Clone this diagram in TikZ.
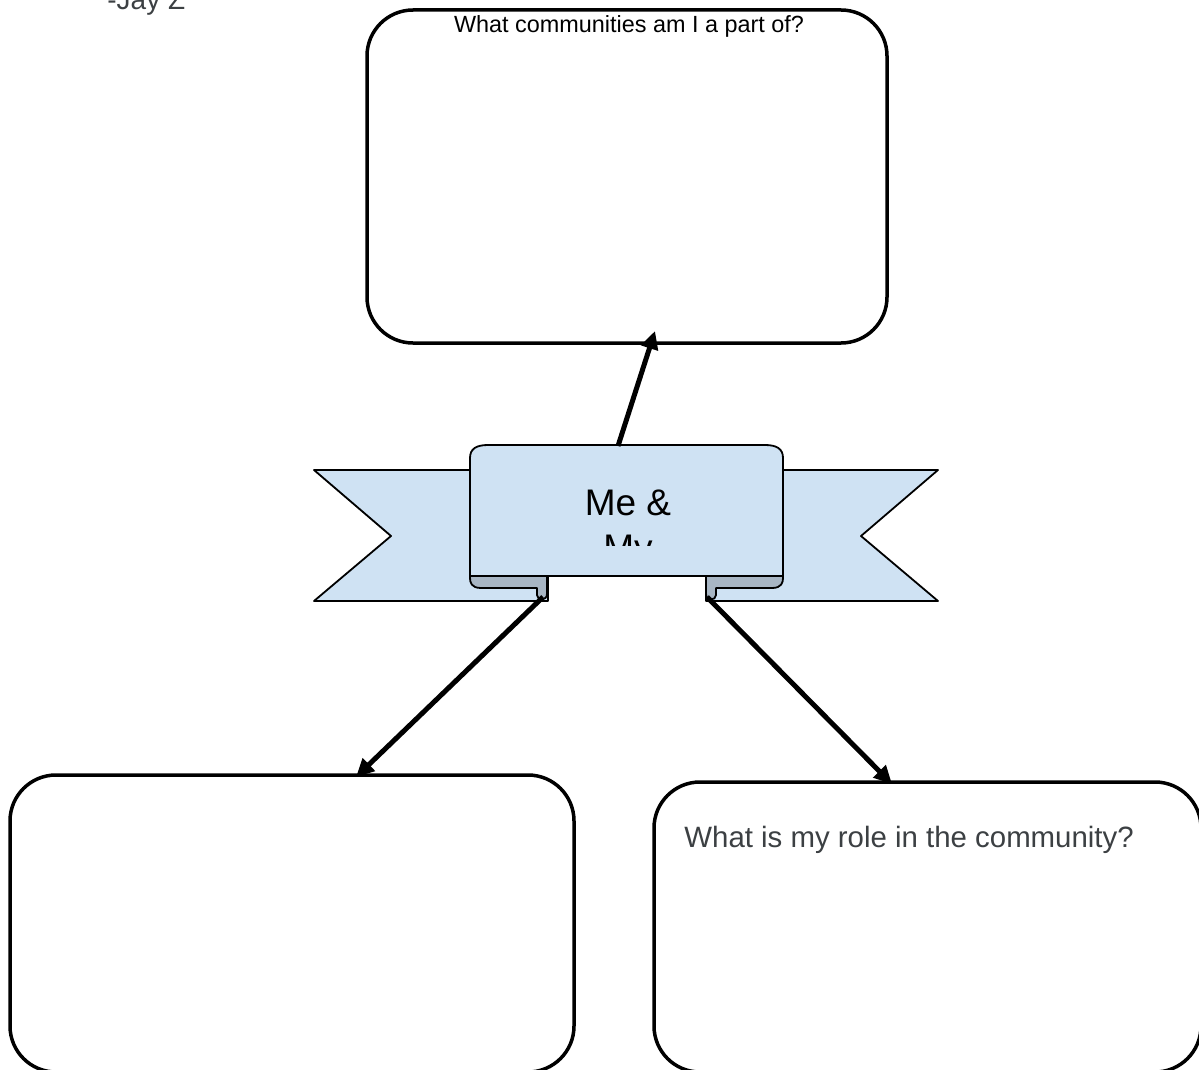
\documentclass[tikz,border=0pt]{standalone}
\usepackage{fontspec}
\setmainfont{Liberation Sans}
\usetikzlibrary{arrows.meta}
\definecolor{ribbon}{HTML}{CFE2F3}
\definecolor{fold}{HTML}{A8B6C4}
\definecolor{greytext}{HTML}{3C4043}
\tikzset{
  qbox/.style={draw=black, line width=1.75pt, rounded corners=23pt, fill=white, inner sep=0pt},
  rib/.style={draw=black, line width=0.9pt, fill=ribbon, line join=round},
  foldpart/.style={draw=black, line width=0.9pt, fill=fold, line join=round},
  conn/.style={line width=2.5pt, -{Triangle[length=9pt,width=8.5pt]}},
}
\begin{document}
\begin{tikzpicture}[x=0.5pt,y=-0.5pt]
\useasboundingbox (0,0) rectangle (1199,1070);
% question boxes
\node[qbox, minimum width=260pt, minimum height=166.5pt] (top) at (627,176.5) {};
\node[qbox, minimum width=282pt, minimum height=148.5pt] (bl) at (292,923.5) {};
\node[qbox, minimum width=273.5pt, minimum height=145pt] (br) at (927.5,927) {};
% texts
\node[anchor=base, inner sep=0pt, font=\fontsize{11.7pt}{14pt}\selectfont] (toptext) at (629,33) {What communities am I a part of?};
\node[anchor=base west, inner sep=0pt, text=greytext, font=\fontsize{14.7pt}{17pt}\selectfont] (brtext) at (684,847) {What is my role in the community?};
\node[anchor=base west, inner sep=0pt, text=greytext, font=\fontsize{14pt}{17pt}\selectfont] (jay) at (107,10) {-Jay Z};
% banner back tails
\draw[rib] (314,470) -- (548,470) -- (548,601) -- (314,601) -- (391,536) -- cycle;
\draw[rib] (706,470) -- (938,470) -- (861,536) -- (938,601) -- (706,601) -- cycle;
% folds
\draw[foldpart] (470,573) -- (547,573) -- (547,594) .. controls (547,601) and (537,601) .. (537,595) -- (537,588) -- (481,588) .. controls (471,588) and (470,582) .. (470,578) -- cycle;
\draw[foldpart] (783,573) -- (706,573) -- (706,594) .. controls (706,601) and (716,601) .. (716,595) -- (716,588) -- (772,588) .. controls (782,588) and (783,582) .. (783,578) -- cycle;
% front panel
\draw[rib] (470,576) -- (470,458) .. controls (470,449) and (476,445) .. (488,445) -- (765,445) .. controls (777,445) and (783,449) .. (783,458) -- (783,576) -- cycle;
\node[anchor=base, inner sep=0pt, font=\fontsize{18.5pt}{22pt}\selectfont] (me) at (628,515) {Me \&};
\begin{scope}
\clip (470,445) rectangle (783,545);
\node[anchor=base, inner sep=0pt, font=\fontsize{18.5pt}{22pt}\selectfont] (my) at (628,560) {My};
\end{scope}
% connector endpoints
\coordinate (upstart) at (618,446);
\coordinate (uptip) at (655,331);
\coordinate (lstart) at (543,597);
\coordinate (ltip) at (356,777);
\coordinate (rstart) at (707,597);
\coordinate (rtip) at (892,784);
\draw[conn] (upstart) -- (uptip);
\draw[conn] (lstart) -- (ltip);
\draw[conn] (rstart) -- (rtip);
\end{tikzpicture}
\end{document}
